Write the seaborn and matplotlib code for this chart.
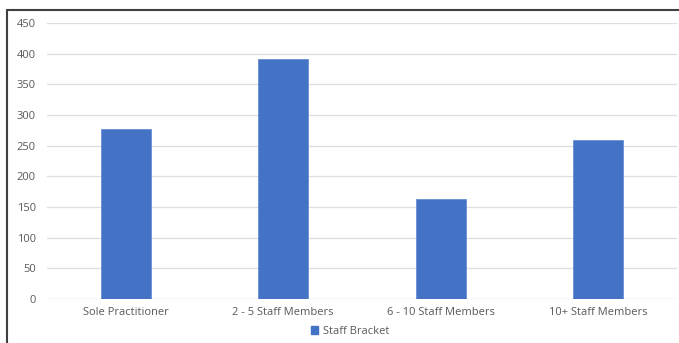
import matplotlib
matplotlib.use("Agg")
import matplotlib.pyplot as plt
import seaborn as sns
import pandas as pd
from matplotlib.lines import Line2D
from matplotlib.patches import Patch

categories = ["Sole Practitioner", "2 - 5 Staff Members", "6 - 10 Staff Members", "10+ Staff Members"]
counts = [277, 391, 163, 259]
series_name = "Staff Bracket"
y_ticks = [0, 50, 100, 150, 200, 250, 300, 350, 400, 450]

df = pd.DataFrame({"bracket": categories, "count": counts})

sns.set_theme(style="white")
plt.rcParams["font.family"] = ["Open Sans", "DejaVu Sans"]

W, H = 679, 343
fig = plt.figure(figsize=(W / 100, H / 100), dpi=100)
ax = fig.add_axes([47 / W, 44 / H, 630 / W, 276 / H])

bar_color = "#4472C4"
sns.barplot(data=df, x="bracket", y="count", color=bar_color, width=0.32,
            saturation=1, ax=ax, edgecolor="#6a8fd4", linewidth=0.6, zorder=3)

ax.set_ylim(0, 450)
ax.set_xlim(-0.5, 3.5)
ax.set_yticks(y_ticks)
ax.yaxis.grid(True, color="#dedede", linewidth=0.9, zorder=0)
ax.set_axisbelow(True)
for s in ax.spines.values():
    s.set_visible(False)
ax.axhline(0, color="#dedede", linewidth=0.9, zorder=1)
ax.set_xlabel("")
ax.set_ylabel("")
ax.tick_params(axis="both", length=0, colors="#595959", labelsize=8)
ax.tick_params(axis="y", pad=8)
ax.tick_params(axis="x", pad=6)

handle = Patch(facecolor=bar_color, edgecolor=bar_color)
fig.legend([handle], [series_name], loc="center", bbox_to_anchor=(350 / W, 1 - 331 / H),
           frameon=False, fontsize=8, labelcolor="#595959",
           handlelength=0.7, handleheight=0.7, handletextpad=0.4)

# frame edges on the top and left
fig.add_artist(Line2D([7 / W, 1], [1 - 9.5 / H, 1 - 9.5 / H], color="#404040", linewidth=1.5))
fig.add_artist(Line2D([7 / W, 7 / W], [0, 1 - 9.5 / H], color="#404040", linewidth=1.5))

fig.savefig("out.png", dpi=100, facecolor="white")
